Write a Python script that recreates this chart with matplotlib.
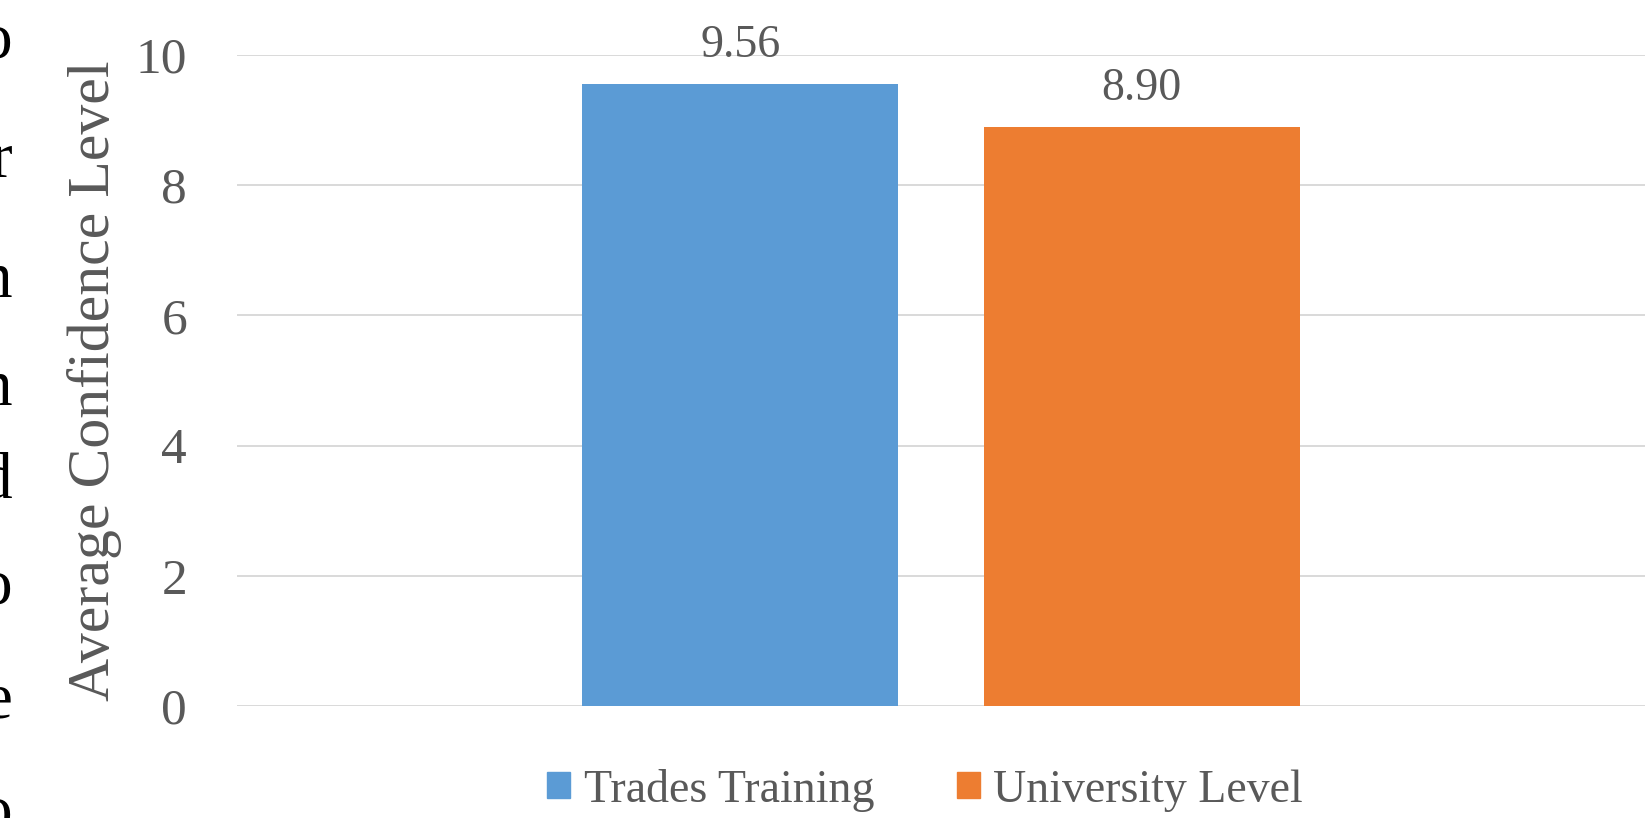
import matplotlib
matplotlib.use("Agg")
import matplotlib.pyplot as plt
from matplotlib.patches import Patch

# -------- DATA --------
series_names = ["Trades Training", "University Level"]
series_values = [9.56, 8.90]
series_colors = ["#5B9BD5", "#ED7D31"]
y_ticks = [0, 2, 4, 6, 8, 10]
y_label = "Average Confidence Level"

# right-hand ends of the page text that got cut off at the left edge
edge_letters = ["o", "r", "n", "n", "d", "o", "e", "o"]
edge_baselines = [57, 177, 297, 405, 497, 603, 717, 830]  # pixels from top

TEXT = "#595959"
W, H = 1645, 818

plt.rcParams["font.family"] = ["Liberation Serif", "DejaVu Serif"]

fig = plt.figure(figsize=(W / 100, H / 100), dpi=100)
ax = fig.add_axes([237 / W, 112 / H, (W - 237) / W, (706 - 55) / H])

# one category, two bars side by side
offsets = [-0.1425, 0.1425]
bar_w = 0.2244
for name, val, col, off in zip(series_names, series_values, series_colors, offsets):
    ax.bar(off, val, width=bar_w, color=col, label=name, zorder=2)
    ax.annotate(f"{val:.2f}", (off, val), xytext=(0, 12), textcoords="offset points",
                ha="center", va="bottom", fontsize=33, color=TEXT)

ax.set_xlim(-0.5, 0.5)
ax.set_ylim(0, 10)
ax.set_yticks(y_ticks)
ax.set_xticks([])
ax.tick_params(axis="y", length=0, pad=36, labelsize=37, labelcolor=TEXT)
ax.grid(axis="y", color="#D9D9D9", linewidth=1.4, zorder=0)
for s in ax.spines.values():
    s.set_visible(False)
ax.set_ylabel(y_label, fontsize=43, color=TEXT, labelpad=10)

handles = [Patch(color=c) for c in series_colors]
fig.legend(handles, series_names, loc="center", bbox_to_anchor=(925 / W, 28 / H),
           ncol=2, frameon=False, fontsize=33, labelcolor=TEXT,
           handlelength=0.5, handleheight=0.5, handletextpad=0.3, columnspacing=1.8)

for letter, yb in zip(edge_letters, edge_baselines):
    fig.text(12 / W, 1 - yb / H, letter, ha="right", va="baseline",
             fontsize=47, color="black")

fig.savefig("out.png", dpi=100)
